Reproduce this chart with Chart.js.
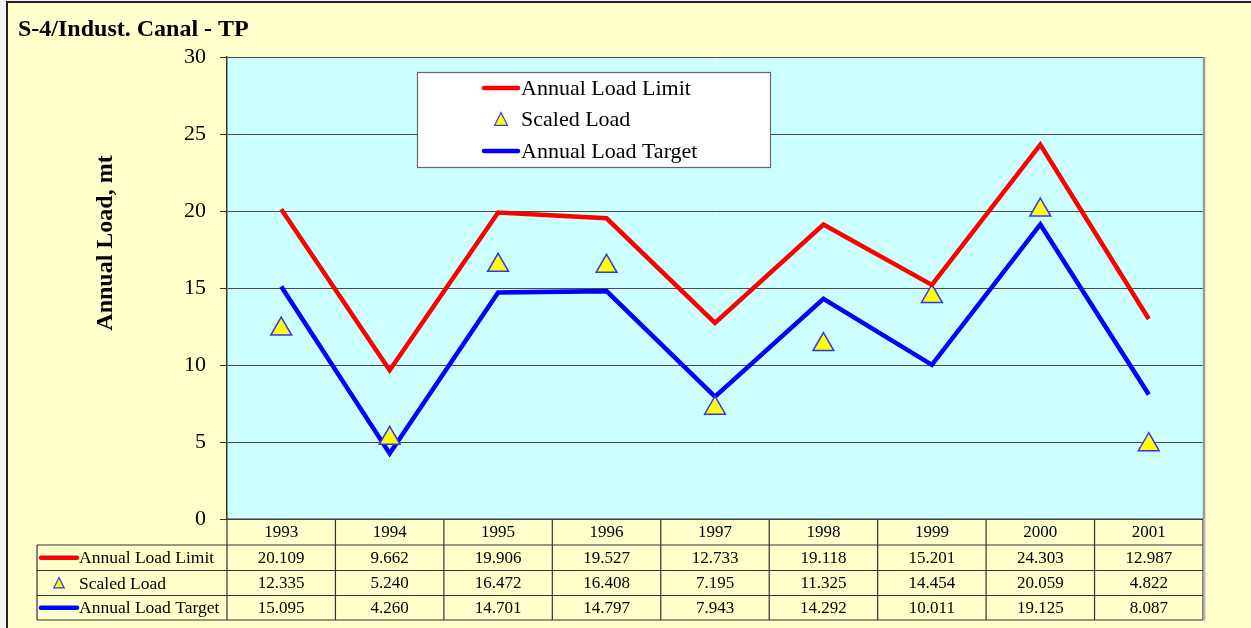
<!DOCTYPE html>
<html><head><meta charset="utf-8">
<script src="https://cdn.jsdelivr.net/npm/chart.js@4.4.1/dist/chart.umd.min.js"></script>
<style>html,body{margin:0;padding:0;background:#ffffcc;overflow:hidden}</style>
</head><body>
<canvas id="c" width="1251" height="628" style="display:block;width:1251px;height:628px"></canvas>
<script>
const chartTitle = 'S-4/Indust. Canal - TP';
const yTitle = 'Annual Load, mt';
const years = ['1993','1994','1995','1996','1997','1998','1999','2000','2001'];
const loadLimit = [20.109, 9.662, 19.906, 19.527, 12.733, 19.118, 15.201, 24.303, 12.987];
const scaledLoad = [12.335, 5.240, 16.472, 16.408, 7.195, 11.325, 14.454, 20.059, 4.822];
const loadTarget = [15.095, 4.260, 14.701, 14.797, 7.943, 14.292, 10.011, 19.125, 8.087];
const yTicks = [0, 5, 10, 15, 20, 25, 30];
const seriesNames = ['Annual Load Limit', 'Scaled Load', 'Annual Load Target'];

const SERIF = '"Liberation Serif", "Times New Roman", serif';
const CREAM = '#ffffcc';
const CYAN = '#ccffff';

function drawTriangle(ctx, x, y, r, fill, stroke, lw) {
  const half = r * 0.8;
  ctx.beginPath();
  ctx.moveTo(x, y - r);
  ctx.lineTo(x + half, y + r * 0.6);
  ctx.lineTo(x - half, y + r * 0.6);
  ctx.closePath();
  ctx.fillStyle = fill; ctx.fill();
  ctx.lineWidth = lw; ctx.strokeStyle = stroke; ctx.stroke();
}

function drawIcon(ctx, ds, x0, x1, y, small) {
  if (ds.showLine === false) {
    drawTriangle(ctx, (x0 + x1) / 2, y + 1, small, ds.backgroundColor, ds.borderColor, 1.2);
  } else {
    ctx.beginPath();
    ctx.moveTo(x0, y); ctx.lineTo(x1, y);
    ctx.strokeStyle = ds.borderColor; ctx.lineWidth = ds.borderWidth; ctx.lineCap = 'round';
    ctx.stroke();
    ctx.lineCap = 'butt';
  }
}

const decor = {
  id: 'decor',
  beforeDraw(chart) {
    const ctx = chart.ctx, a = chart.chartArea;
    ctx.save();
    ctx.fillStyle = '#f4f4f4';
    ctx.fillRect(0, 0, chart.width, chart.height);
    ctx.fillStyle = CREAM;
    ctx.fillRect(7, 2, chart.width - 7, chart.height - 2);
    ctx.fillStyle = CYAN;
    ctx.fillRect(a.left, a.top, a.right - a.left, a.bottom - a.top);
    ctx.restore();
  },
  afterDraw(chart) {
    const ctx = chart.ctx, a = chart.chartArea;
    ctx.save();
    // outer border
    ctx.strokeStyle = '#222'; ctx.lineWidth = 2;
    ctx.beginPath(); ctx.moveTo(7, chart.height); ctx.lineTo(7, 2); ctx.lineTo(chart.width, 2); ctx.stroke();
    // right shadow of plot
    ctx.strokeStyle = '#999'; ctx.lineWidth = 2.5;
    ctx.beginPath(); ctx.moveTo(a.right + 1, a.top); ctx.lineTo(a.right + 1, a.bottom); ctx.stroke();
    // title
    ctx.fillStyle = '#000';
    ctx.font = 'bold 24px ' + SERIF;
    ctx.textAlign = 'left'; ctx.textBaseline = 'alphabetic';
    ctx.fillText(chartTitle, 18, 36);
    // y title
    ctx.save();
    ctx.translate(106, 243);
    ctx.rotate(-Math.PI / 2);
    ctx.font = 'bold 24px ' + SERIF;
    ctx.textAlign = 'center'; ctx.textBaseline = 'middle';
    ctx.fillText(yTitle, 0, 0);
    ctx.restore();

    const dss = chart.data.datasets;
    // legend
    const lx = 417, ly = 72, lw = 353, lh = 95;
    ctx.fillStyle = '#fff';
    ctx.fillRect(lx, ly, lw, lh);
    ctx.strokeStyle = '#666'; ctx.lineWidth = 1.2;
    ctx.strokeRect(lx + 0.5, ly + 0.5, lw, lh);
    const rowsY = [88, 119.5, 151];
    dss.forEach((ds, i) => {
      drawIcon(ctx, ds, 484, 518, rowsY[i], 8);
      ctx.fillStyle = '#000';
      ctx.font = '22px ' + SERIF;
      ctx.textAlign = 'left'; ctx.textBaseline = 'middle';
      ctx.fillText(ds.label, 521, rowsY[i] + 1);
    });

    // data table
    const xs = chart.scales.x;
    const n = years.length;
    const cw = (a.right - a.left) / n;
    const tLeft = 37;
    const rowT = [a.bottom, 545, 570.5, 595.5, 620];
    ctx.strokeStyle = '#333'; ctx.lineWidth = 1.2;
    ctx.beginPath();
    ctx.moveTo(a.left, rowT[0]); ctx.lineTo(a.right, rowT[0]);
    for (let r = 1; r < rowT.length; r++) { ctx.moveTo(tLeft, rowT[r]); ctx.lineTo(a.right, rowT[r]); }
    ctx.moveTo(tLeft, rowT[1]); ctx.lineTo(tLeft, rowT[4]);
    for (let i = 0; i <= n; i++) {
      const bx = xs.getPixelForValue(0) - cw / 2 + i * cw;
      ctx.moveTo(bx, rowT[0]); ctx.lineTo(bx, rowT[4]);
    }
    ctx.stroke();
    ctx.strokeStyle = '#bbb'; ctx.lineWidth = 2;
    ctx.beginPath(); ctx.moveTo(a.right + 1.5, rowT[0]); ctx.lineTo(a.right + 1.5, rowT[4] + 1); ctx.stroke();

    ctx.fillStyle = '#000';
    ctx.textAlign = 'center'; ctx.textBaseline = 'middle';
    ctx.font = '17px ' + SERIF;
    years.forEach((y, i) => ctx.fillText(y, xs.getPixelForValue(i), (rowT[0] + rowT[1]) / 2 + 1));
    ctx.font = '17px ' + SERIF;
    dss.forEach((ds, r) => {
      const cy = (rowT[r + 1] + rowT[r + 2]) / 2 + 1;
      ds.data.forEach((v, i) => ctx.fillText(v.toFixed(3), xs.getPixelForValue(i), cy));
    });
    dss.forEach((ds, r) => {
      const cy = (rowT[r + 1] + rowT[r + 2]) / 2;
      drawIcon(ctx, ds, 41, 77, cy, 6.5);
      ctx.fillStyle = '#000';
      ctx.font = '17.5px ' + SERIF;
      ctx.textAlign = 'left'; ctx.textBaseline = 'middle';
      ctx.fillText(ds.label, 79, cy + 1);
    });
    ctx.restore();
  }
};

new Chart(document.getElementById('c'), {
  type: 'line',
  data: {
    labels: years,
    datasets: [
      { label: seriesNames[0], data: loadLimit, borderColor: '#ff0000', backgroundColor: '#ff0000', borderWidth: 4.5, pointRadius: 0, tension: 0 },
      { label: seriesNames[1], data: scaledLoad, showLine: false, pointStyle: 'triangle', pointRadius: 12, borderColor: '#3333ff', backgroundColor: '#ffff00', borderWidth: 1.5 },
      { label: seriesNames[2], data: loadTarget, borderColor: '#0000ff', backgroundColor: '#0000ff', borderWidth: 4.5, pointRadius: 0, tension: 0 }
    ]
  },
  options: {
    responsive: false,
    animation: false,
    devicePixelRatio: 1,
    layout: { padding: { left: 0, top: 57, right: 48, bottom: 109 } },
    plugins: { legend: { display: false }, title: { display: false }, tooltip: { enabled: false } },
    scales: {
      x: { type: 'category', offset: true, display: false },
      y: {
        min: 0, max: 30,
        afterFit(scale) { scale.width = 227; },
        afterBuildTicks(scale) { scale.ticks = yTicks.map(v => ({ value: v })); },
        grid: { color: '#4a4a4a', lineWidth: 1, tickLength: 7, drawTicks: true, tickColor: '#333' },
        border: { display: true, color: '#333', width: 1.5 },
        ticks: { font: { family: SERIF, size: 22 }, color: '#000', padding: 14 }
      }
    }
  },
  plugins: [decor]
});
</script>
</body></html>
